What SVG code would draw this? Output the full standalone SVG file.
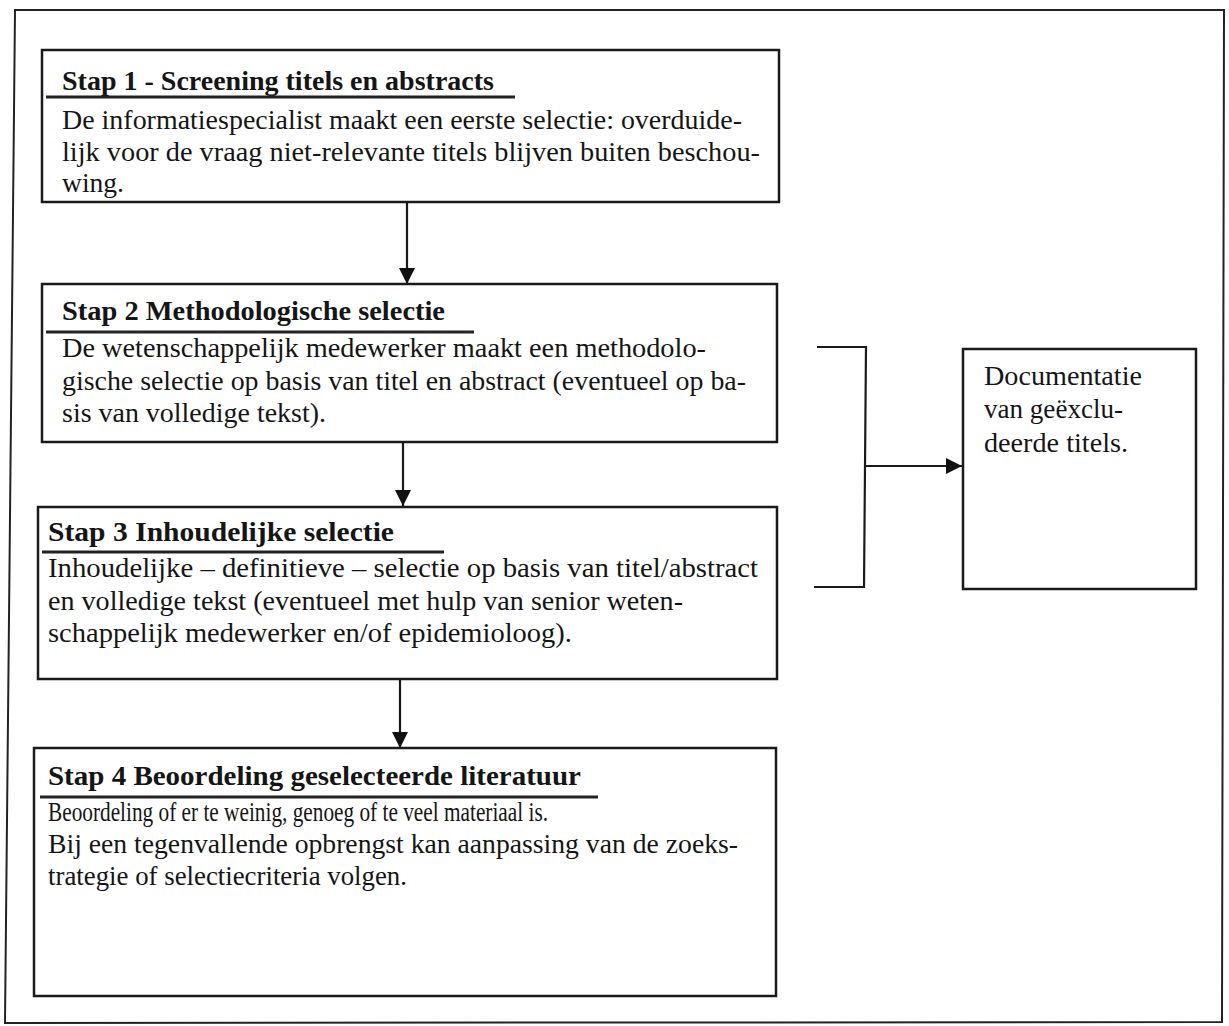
<svg xmlns="http://www.w3.org/2000/svg" width="1229" height="1026" viewBox="0 0 1229 1026">
<defs>
<style>
.box{fill:#fff;stroke:#1a1a1a;stroke-width:2.5}
.frame{fill:none;stroke:#222;stroke-width:2}
.t{font-family:"Liberation Serif","Times New Roman",serif;font-size:27px;font-weight:bold;fill:#151515}
.b{font-family:"Liberation Serif","Times New Roman",serif;font-size:28px;fill:#151515}
.ul{stroke:#222;stroke-width:3;fill:none}
.con{stroke:#1a1a1a;stroke-width:2.2;fill:none}
</style>
<marker id="ah" markerUnits="userSpaceOnUse" markerWidth="16" markerHeight="16" viewBox="0 0 16 16" refX="16" refY="8" orient="auto">
<path d="M0,0 L16,8 L0,16 Z" fill="#111"/>
</marker>
</defs>
<rect width="1229" height="1026" fill="#fff"/>
<path class="frame" d="M15,10 L1224,10 L1222,1022 L5,1023 Z"/>

<g id="connectors">
<line class="con" x1="407" y1="202" x2="407" y2="284" marker-end="url(#ah)"/>
<line class="con" x1="403" y1="442" x2="403" y2="506" marker-end="url(#ah)"/>
<line class="con" x1="400" y1="679" x2="400" y2="748" marker-end="url(#ah)"/>
<path class="con" d="M817,347 L866,347 L864,587 L814,587"/>
<line class="con" x1="865" y1="466" x2="962" y2="466" marker-end="url(#ah)"/>
</g>

<g id="stap1">
<rect class="box" x="42" y="50" width="737" height="152"/>
<text class="t" x="62" y="90" textLength="432" lengthAdjust="spacingAndGlyphs">Stap 1 - Screening titels en abstracts</text>
<line class="ul" x1="46" y1="97" x2="515" y2="97"/>
<text class="b" x="62" y="129" textLength="680" lengthAdjust="spacingAndGlyphs">De informatiespecialist maakt een eerste selectie: overduide-</text>
<text class="b" x="62" y="161" textLength="698" lengthAdjust="spacingAndGlyphs">lijk voor de vraag niet-relevante titels blijven buiten beschou-</text>
<text class="b" x="62" y="192" textLength="62" lengthAdjust="spacingAndGlyphs">wing.</text>
</g>

<g id="stap2">
<rect class="box" x="42" y="284" width="735" height="158"/>
<text class="t" x="62" y="320" textLength="383" lengthAdjust="spacingAndGlyphs">Stap 2 Methodologische selectie</text>
<line class="ul" x1="46" y1="332" x2="474" y2="332"/>
<text class="b" x="62" y="357" textLength="644" lengthAdjust="spacingAndGlyphs">De wetenschappelijk medewerker maakt een methodolo-</text>
<text class="b" x="62" y="390" textLength="684" lengthAdjust="spacingAndGlyphs">gische selectie op basis van titel en abstract (eventueel op ba-</text>
<text class="b" x="62" y="422" textLength="264" lengthAdjust="spacingAndGlyphs">sis van volledige tekst).</text>
</g>

<g id="stap3">
<rect class="box" x="38" y="507" width="739" height="172"/>
<text class="t" x="48" y="541" textLength="346" lengthAdjust="spacingAndGlyphs">Stap 3 Inhoudelijke selectie</text>
<line class="ul" x1="42" y1="552" x2="444" y2="552"/>
<text class="b" x="48" y="577" textLength="710" lengthAdjust="spacingAndGlyphs">Inhoudelijke – definitieve – selectie op basis van titel/abstract</text>
<text class="b" x="48" y="610" textLength="635" lengthAdjust="spacingAndGlyphs">en volledige tekst (eventueel met hulp van senior weten-</text>
<text class="b" x="48" y="642" textLength="524" lengthAdjust="spacingAndGlyphs">schappelijk medewerker en/of epidemioloog).</text>
</g>

<g id="stap4">
<rect class="box" x="34" y="748" width="742" height="248"/>
<text class="t" x="48" y="785" textLength="533" lengthAdjust="spacingAndGlyphs">Stap 4 Beoordeling geselecteerde literatuur</text>
<line class="ul" x1="40" y1="797" x2="598" y2="797"/>
<text class="b" x="48" y="821" textLength="500" lengthAdjust="spacingAndGlyphs">Beoordeling of er te weinig, genoeg of te veel materiaal is.</text>
<text class="b" x="48" y="853" textLength="690" lengthAdjust="spacingAndGlyphs">Bij een tegenvallende opbrengst kan aanpassing van de zoeks-</text>
<text class="b" x="48" y="885" textLength="359" lengthAdjust="spacingAndGlyphs">trategie of selectiecriteria volgen.</text>
</g>

<g id="documentatie">
<rect class="box" x="963" y="349" width="233" height="240"/>
<text class="b" x="984" y="385" textLength="158" lengthAdjust="spacingAndGlyphs">Documentatie</text>
<text class="b" x="984" y="418" textLength="139" lengthAdjust="spacingAndGlyphs">van geëxclu-</text>
<text class="b" x="984" y="452" textLength="144" lengthAdjust="spacingAndGlyphs">deerde titels.</text>
</g>
</svg>
